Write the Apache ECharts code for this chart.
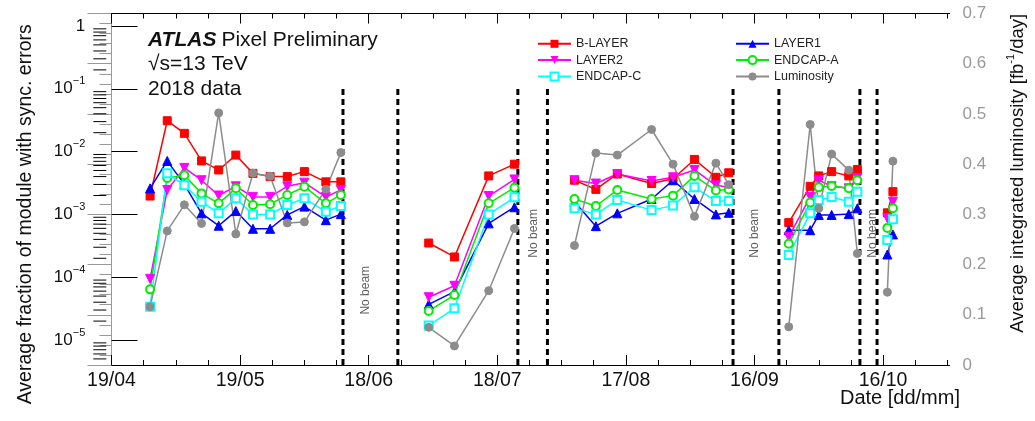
<!DOCTYPE html>
<html>
<head>
<meta charset="utf-8">
<script src="https://cdn.jsdelivr.net/npm/echarts@6/dist/echarts.min.js"></script>
<style>
  html, body { margin: 0; padding: 0; background: #fff; }
  #chart { width: 1035px; height: 421px; }
</style>
</head>
<body>
<div id="chart"></div>
<script>
// Day offsets from 19/04/2018; null marks a break between data-taking periods
const days = [9, 13, 17, 21, 25, 29, 33, 37, 41, 45, 50, 53.5, null,
              74, 80, 88, 94, null,
              108, 113, 118, 126, 131, 136, 141, 144, null,
              158, 163, 165, 168, 172, 174, null,
              181, 182.3];

// Average fraction of modules with synchronisation errors
const bLayer = [1.96e-3, 3.1e-2, 1.95e-2, 7.1e-3, 5.1e-3, 8.8e-3, 4.5e-3, 4.0e-3, 4.0e-3, 4.8e-3, 3.3e-3, 3.3e-3, null,
                3.5e-4, 2.1e-4, 4.1e-3, 6.3e-3, null,
                3.5e-3, 2.5e-3, 4.4e-3, 3.1e-3, 3.7e-3, 7.5e-3, 3.9e-3, 4.6e-3, null,
                7.4e-4, 2.8e-3, 4.1e-3, 4.8e-3, 4.1e-3, 5.2e-3, null,
                1.06e-3, 2.3e-3];
const layer1 = [2.6e-3, 7.1e-3, 3.0e-3, 1.04e-3, 6.6e-4, 1.13e-3, 5.9e-4, 5.9e-4, 9.8e-4, 1.33e-3, 8.1e-4, 1.01e-3, null,
                3.7e-5, 5.9e-5, 7.2e-4, 1.3e-3, null,
                1.59e-3, 6.5e-4, 1.04e-3, 1.76e-3, 3.5e-3, 1.76e-3, 1.0e-3, 1.06e-3, null,
                5.6e-4, 5.6e-4, 9.8e-4, 9.8e-4, 1.01e-3, 1.25e-3, null,
                2.3e-4, 4.8e-4];
const layer2 = [9.4e-5, 2.45e-3, 5.5e-3, 3.5e-3, 2.0e-3, 2.8e-3, 1.9e-3, 1.9e-3, 2.8e-3, 3.2e-3, 1.9e-3, 2.45e-3, null,
                4.8e-5, 7.3e-5, 1.96e-3, 3.6e-3, null,
                3.5e-3, 3.1e-3, 4.4e-3, 3.4e-3, 3.9e-3, 5.1e-3, 2.9e-3, 2.7e-3, null,
                4.4e-4, 1.9e-3, 3.5e-3, 2.8e-3, 2.6e-3, 3.8e-3, null,
                8.7e-4, 1.59e-3];
const endcapA = [6.4e-5, 3.8e-3, 4.2e-3, 2.16e-3, 1.5e-3, 2.6e-3, 1.41e-3, 1.45e-3, 2.04e-3, 2.76e-3, 1.5e-3, 2.04e-3, null,
                 2.9e-5, 5.2e-5, 1.5e-3, 2.66e-3, null,
                 1.76e-3, 1.36e-3, 2.45e-3, 1.76e-3, 1.99e-3, 4.1e-3, 2.4e-3, 2.5e-3, null,
                 3.4e-4, 1.54e-3, 2.7e-3, 2.83e-3, 2.6e-3, 3.5e-3, null,
                 6.1e-4, 1.25e-3];
const endcapC = [3.4e-5, 4.5e-3, 2.9e-3, 1.59e-3, 1.04e-3, 1.8e-3, 1.0e-3, 1.0e-3, 1.41e-3, 1.8e-3, 1.1e-3, 1.36e-3, null,
                 1.7e-5, 3.2e-5, 1.0e-3, 1.87e-3, null,
                 1.25e-3, 1.0e-3, 1.7e-3, 1.17e-3, 1.38e-3, 2.7e-3, 1.63e-3, 1.63e-3, null,
                 2.26e-4, 1.04e-3, 1.7e-3, 1.9e-3, 1.59e-3, 2.3e-3, null,
                 3.9e-4, 8.4e-4];
// Average integrated luminosity per day [fb^-1/day]
const luminosity = [0.116, 0.267, 0.319, 0.282, 0.502, 0.261, 0.382, 0.376, 0.283, 0.285, 0.350, 0.423, null,
                    0.075, 0.038, 0.148, 0.272, null,
                    0.238, 0.422, 0.418, 0.469, 0.400, 0.296, 0.402, 0.359, null,
                    0.076, 0.479, 0.312, 0.420, 0.388, 0.222, null,
                    0.145, 0.406];

// Beam-off boundaries (day offsets) and the "No beam" annotations [day, fraction]
const beamOffLines = [54, 66.8, 94.8, 101.7, 145, 155.7, 174.6, 178.6];
const noBeamLabels = [[59.2, 6.2e-5], [98.4, 5.0e-4], [150.0, 5.0e-4], [177.5, 5.0e-4]];

// Date axis ticks
const dateTicks = [0, 30, 60, 90, 120, 150, 180];
const dateLabels = ['19/04', '19/05', '18/06', '18/07', '17/08', '16/09', '16/10'];

const X_MIN = -4.25, X_MAX = 195.5;
const Y_MIN = 4.0e-6, Y_MAX = 1.58;
const FONT = 'Liberation Sans';

const dateMinor = [];
for (let d = 0; d <= X_MAX; d += 7.5) dateMinor.push(d);
const logMinor = [];
for (let e = -6; e <= 0; e++) {
  for (let k = 2; k <= 9; k++) {
    const v = k * Math.pow(10, e);
    if (v > Y_MIN && v < Y_MAX) logMinor.push(v);
  }
}

function pairs(vals) {
  return days.map((d, i) => (d === null || vals[i] === null) ? ['-', '-'] : [d, vals[i]]);
}

function lineSeries(name, vals, color, symbol, extra) {
  return Object.assign({
    name: name,
    type: 'line',
    data: pairs(vals),
    symbol: symbol,
    symbolSize: 8,
    connectNulls: false,
    showAllSymbol: true,
    itemStyle: { color: color, borderColor: color },
    lineStyle: { color: color, width: 1.5 },
    emphasis: { disabled: true }
  }, extra || {});
}

const beamOffData = [];
beamOffLines.forEach(x => { beamOffData.push([x, Y_MIN], [x, 0.1], ['-', '-']); });

const xBase = {
  type: 'value', min: X_MIN, max: X_MAX,
  splitLine: { show: false },
  axisLine: { show: true, lineStyle: { color: '#000', width: 1 } }
};

const plainTitle = { fontFamily: FONT, fontSize: 21, fontWeight: 'normal', color: '#111' };

const chart = echarts.init(document.getElementById('chart'));
chart.setOption({
  animation: false,
  textStyle: { fontFamily: FONT },
  grid: { left: 93.3, right: 77, top: 13.5, bottom: 56 },
  title: [
    { text: '{a|ATLAS} {b|Pixel Preliminary}', left: 148, top: 30, padding: 0,
      textStyle: { fontWeight: 'normal', rich: {
        a: { fontFamily: FONT, fontSize: 21, fontWeight: 'bold', fontStyle: 'italic', color: '#111' },
        b: { fontFamily: FONT, fontSize: 21, fontWeight: 'normal', color: '#111' } } } },
    { text: '√s=13 TeV', left: 148, top: 54, padding: 0, textStyle: plainTitle },
    { text: '2018 data', left: 148, top: 79, padding: 0, textStyle: plainTitle },
    { text: 'Date [dd/mm]', right: 75, top: 388, padding: 0,
      textStyle: { fontFamily: FONT, fontSize: 20, fontWeight: 'normal', color: '#111' } }
  ],
  legend: [
    { data: ['B-LAYER', 'LAYER2', 'ENDCAP-C'], orient: 'vertical', left: 537, top: 37.3,
      itemWidth: 33, itemHeight: 10, itemGap: 3.3, padding: 0, selectedMode: false,
      textStyle: { fontSize: 12.5, lineHeight: 12, color: '#222' } },
    { data: ['LAYER1', 'ENDCAP-A', 'Luminosity'], orient: 'vertical', left: 735, top: 37.3,
      itemWidth: 33, itemHeight: 10, itemGap: 3.3, padding: 0, selectedMode: false,
      textStyle: { fontSize: 12.5, lineHeight: 12, color: '#222' } }
  ],
  xAxis: [
    Object.assign({}, xBase, {
      position: 'bottom',
      axisTick: { show: true, inside: true, length: 10, customValues: dateTicks, lineStyle: { color: '#000' } },
      axisLabel: { show: true, customValues: dateTicks, margin: 6, fontSize: 19.5, color: '#111',
        formatter: v => dateLabels[dateTicks.indexOf(v)] }
    }),
    Object.assign({}, xBase, {
      position: 'bottom',
      axisTick: { show: true, inside: true, length: 5, customValues: dateMinor, lineStyle: { color: '#000' } },
      axisLabel: { show: false }
    }),
    Object.assign({}, xBase, {
      position: 'top',
      axisTick: { show: true, inside: true, length: 10, customValues: dateTicks, lineStyle: { color: '#000' } },
      axisLabel: { show: false }
    }),
    Object.assign({}, xBase, {
      position: 'top',
      axisTick: { show: true, inside: true, length: 5, customValues: dateMinor, lineStyle: { color: '#000' } },
      axisLabel: { show: false }
    })
  ],
  yAxis: [
    {
      type: 'log', logBase: 10, min: Y_MIN, max: Y_MAX, position: 'left',
      name: 'Average fraction of module with sync. errors',
      nameLocation: 'middle', nameRotate: 90, nameGap: 58,
      nameTextStyle: { fontSize: 19.5, color: '#111', padding: [0, 50, 0, 0] },
      splitLine: { show: false },
      axisLine: { show: true, lineStyle: { color: '#000', width: 1 } },
      axisTick: { show: true, inside: true, length: 26, lineStyle: { color: '#000' } },
      axisLabel: {
        show: true, margin: 8, showMinLabel: false, showMaxLabel: false, color: '#111',
        formatter: v => {
          const e = Math.round(Math.log10(v));
          return e === 0 ? '{b|1}' : '{b|10}{s|' + (e < 0 ? '\u2212' : '') + Math.abs(e) + '}';
        },
        rich: {
          b: { fontSize: 17, lineHeight: 26, color: '#111', fontFamily: FONT },
          s: { fontSize: 11, lineHeight: 17, verticalAlign: 'top', color: '#111', fontFamily: FONT }
        }
      }
    },
    {
      type: 'value', min: 0, max: 0.7, interval: 0.1, position: 'right',
      name: '{n|Average integrated luminosity [fb}{s|-1}{n|/day]}',
      nameLocation: 'middle', nameRotate: 90, nameGap: 56,
      nameTextStyle: { padding: [0, 0, 0, 32], rich: {
        n: { fontSize: 18.5, lineHeight: 24, color: '#111', fontFamily: FONT },
        s: { fontSize: 11, lineHeight: 16, verticalAlign: 'top', color: '#111', fontFamily: FONT } } },
      splitLine: { show: false },
      axisLine: { show: true, lineStyle: { color: '#999', width: 1 } },
      axisTick: { show: true, inside: true, length: 24, lineStyle: { color: '#999' } },
      minorTick: { show: true, splitNumber: 5, length: 12, lineStyle: { color: '#999' } },
      axisLabel: { show: true, margin: 13, fontSize: 17, color: '#999',
        formatter: v => String(+v.toFixed(1)) }
    }
  ],
  series: [
    lineSeries('B-LAYER', bLayer, '#ff0000', 'rect'),
    lineSeries('LAYER1', layer1, '#0000ff', 'triangle', { symbolSize: 9 }),
    lineSeries('LAYER2', layer2, '#ff00ff', 'triangle', { symbolSize: 9, symbolRotate: 180 }),
    lineSeries('ENDCAP-A', endcapA, '#00ee00', 'emptyCircle', { itemStyle: { color: '#00ee00', borderColor: '#00ee00', borderWidth: 1.5 } }),
    lineSeries('ENDCAP-C', endcapC, '#00ffff', 'emptyRect', { itemStyle: { color: '#00ffff', borderColor: '#00ffff', borderWidth: 1.5 } }),
    lineSeries('Luminosity', luminosity, '#8c8c8c', 'circle', { yAxisIndex: 1 }),
    {
      name: 'beam-off', type: 'line', data: beamOffData, symbol: 'none', silent: true,
      connectNulls: false, z: 1,
      lineStyle: { color: '#000', width: 3, type: [6, 4] }
    },
    {
      name: 'no-beam-text', type: 'scatter', data: noBeamLabels, symbolSize: 0, silent: true,
      label: { show: true, position: 'inside', formatter: 'No beam', rotate: 90,
        fontSize: 12, color: '#333', fontFamily: FONT }
    },
    {
      name: 'log-minor-ticks', type: 'custom', silent: true, clip: false, z: 3,
      data: logMinor.map(v => [X_MIN, v]),
      renderItem: (params, api) => {
        const p = api.coord([api.value(0), api.value(1)]);
        return { type: 'line', shape: { x1: p[0], y1: p[1], x2: p[0] + 13, y2: p[1] },
          style: { stroke: '#000', lineWidth: 1 } };
      }
    }
  ]
});
</script>
</body>
</html>
